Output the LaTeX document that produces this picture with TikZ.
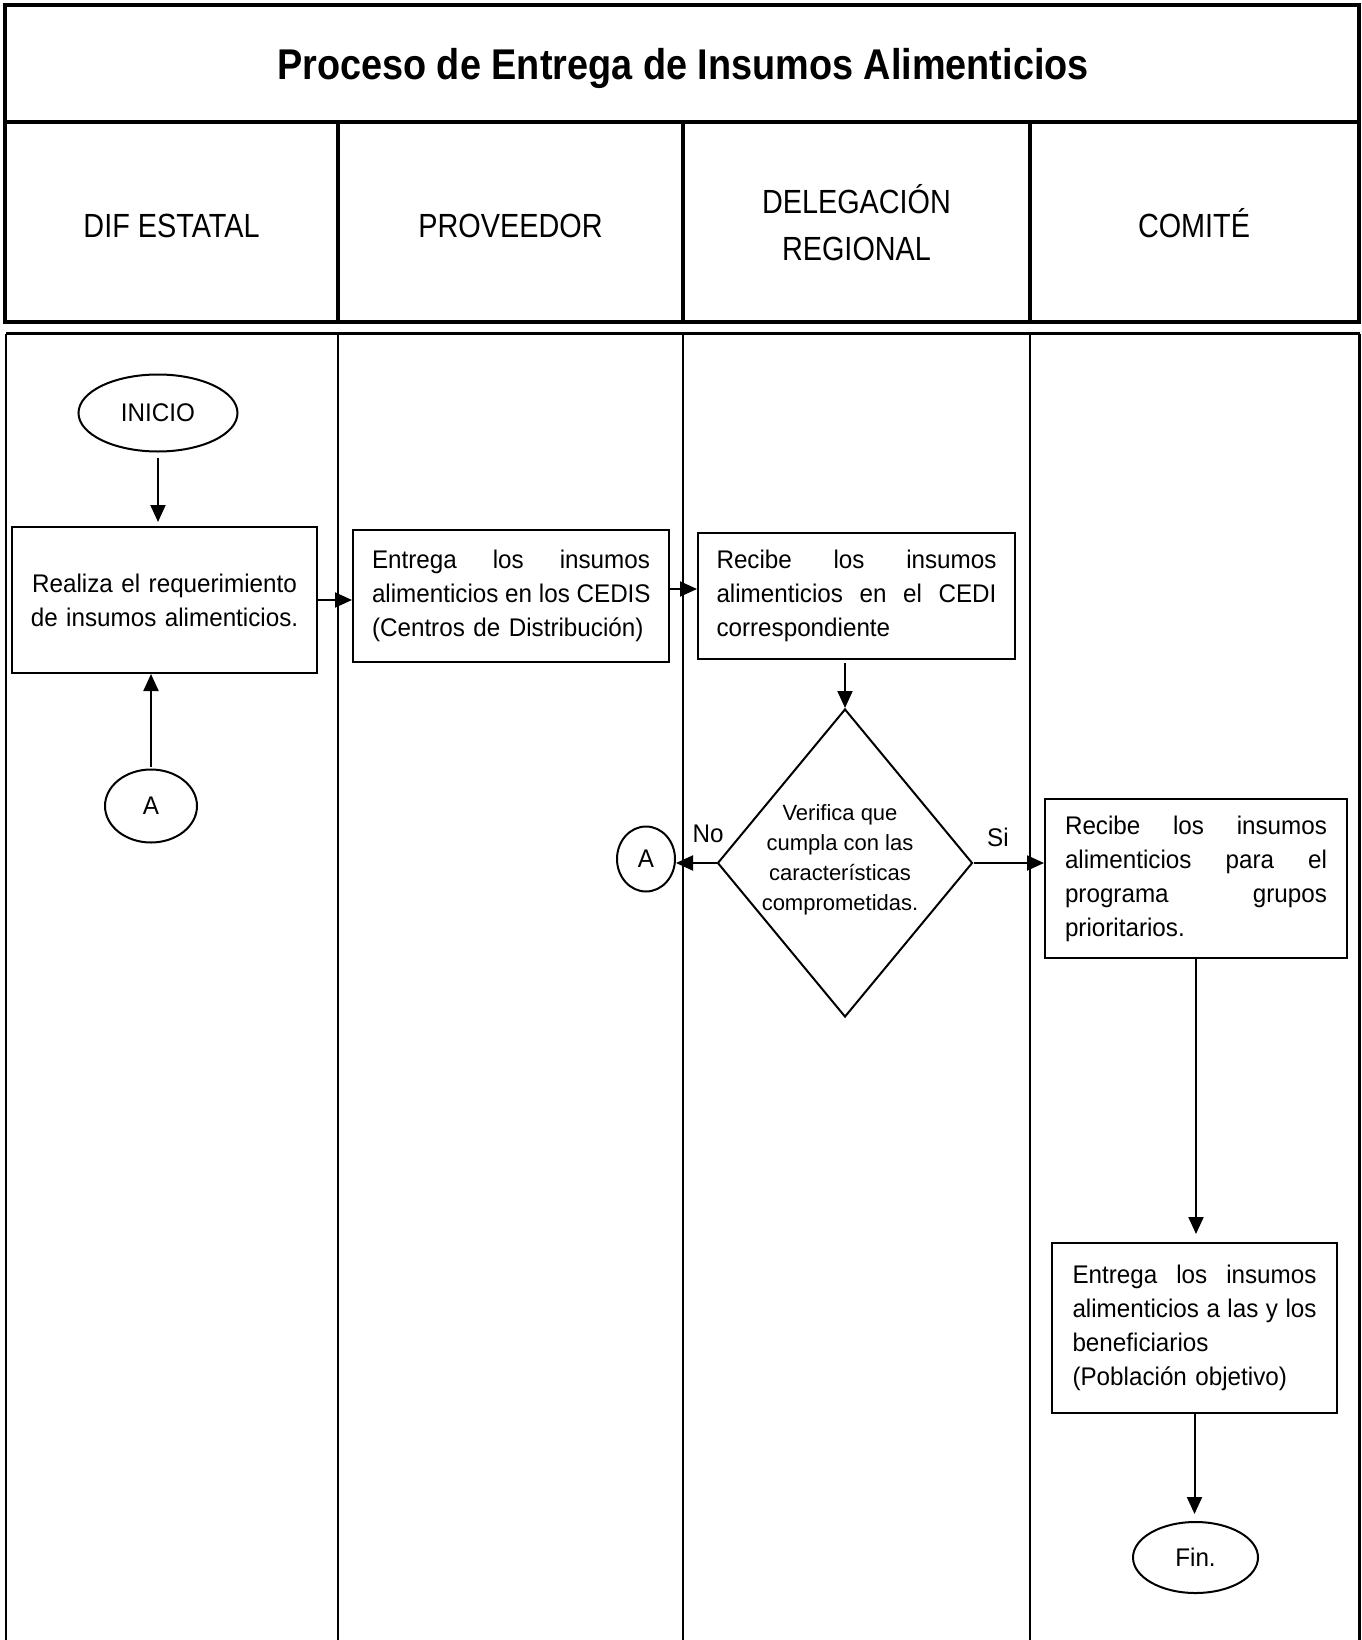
\documentclass[tikz,border=0pt]{standalone}
\usepackage{fontspec}
\setmainfont[FakeStretch=0.95]{Liberation Sans}
\newfontfamily\hdrfont[FakeStretch=0.86]{Liberation Sans}
\newfontfamily\ttlfont[FakeStretch=0.88]{Liberation Sans}
\newfontfamily\dmdfont{Liberation Sans}
\usetikzlibrary{shapes.geometric,arrows.meta}
\newcommand\jst[2]{\leavevmode{\spaceskip=\fontdimen2\font plus 1fil\relax\hbox to #1{#2}}}
\begin{document}
\begin{tikzpicture}[x=1pt,y=-1pt,
  frame/.style={line width=4pt},
  divline/.style={line width=3.5pt},
  lane/.style={line width=2.5pt},
  stepbox/.style={draw,line width=2pt,rectangle,inner sep=0pt,align=left,font=\fontsize{25.5}{34}\selectfont},
  term/.style={draw,line width=2pt,ellipse,inner sep=0pt,font=\fontsize{25.5}{30}\selectfont},
  arr/.style={line width=2pt,-{Triangle[length=17pt,width=15pt]}},
  hdr/.style={font=\hdrfont\fontsize{33.5}{47}\selectfont,align=center,inner sep=0pt},
  lbl/.style={font=\fontsize{25.5}{30}\selectfont,inner sep=0pt},
  dtext/.style={font=\dmdfont\fontsize{22}{30}\selectfont,align=center,inner sep=0pt}
]
\useasboundingbox (0,0) rectangle (1361,1640);
\fill[white] (0,0) rectangle (1361,1640);

% header frame
\draw[frame] (5,5) rectangle (1358.5,322);
\draw[frame] (5,122) -- (1358.5,122);
\draw[divline] (338,122) -- (338,322);
\draw[divline] (683,122) -- (683,322);
\draw[divline] (1030,122) -- (1030,322);

% lanes
\draw[line width=3pt] (6,333.5) -- (1359.5,333.5);
\foreach \xx in {6,338,683,1030,1359.5} \draw[lane] (\xx,333.5) -- (\xx,1640);

% title and headers
\node[anchor=base,inner sep=0pt,font=\ttlfont\bfseries\fontsize{43}{50}\selectfont] (ttl) at (683,80) {Proceso de Entrega de Insumos Alimenticios};
\node[hdr,anchor=base] (h1) at (171.5,237) {DIF ESTATAL};
\node[hdr,anchor=base] (h2) at (510.5,237) {PROVEEDOR};
\node[hdr] (h3) at (856.5,223) {DELEGACIÓN\\REGIONAL};
\node[hdr,anchor=base] (h4) at (1194,237) {COMITÉ};

% flow nodes
\node[term,minimum width=159pt,minimum height=77pt] (inicio) at (158,413) {INICIO};
\node[stepbox,align=center,minimum width=305pt,minimum height=146pt,text width=290pt] (box1) at (164.5,600)
  {Realiza el requerimiento\\de insumos alimenticios.};
\node[term,minimum width=92pt,minimum height=73pt] (a1) at (151,806) {A};

\node[stepbox,minimum width=316pt,minimum height=132pt,text width=278pt] (box2) at (511,596)
  {\jst{278pt}{Entrega los insumos}\\\jst{278pt}{alimenticios en los CEDIS}\\(Centros de Distribución)};

\node[stepbox,minimum width=317pt,minimum height=126pt,text width=280pt] (box3) at (856.5,596)
  {\jst{280pt}{Recibe los insumos}\\\jst{280pt}{alimenticios en el CEDI}\\correspondiente};

\node[draw,line width=2pt,diamond,inner sep=0pt,minimum width=255pt,minimum height=308pt,
  label={[dtext,xshift=-5pt,yshift=3pt]center:{Verifica que\\cumpla con las\\características\\comprometidas.}}] (diamond) at (845,863) {};

\node[term,minimum width=58pt,minimum height=65pt] (a2) at (646,859) {A};
\node[lbl] (no) at (708,834) {No};
\node[lbl] (si) at (998,837) {Si};

\node[stepbox,minimum width=302pt,minimum height=159pt,text width=262pt] (box4) at (1196,878.5)
  {\jst{262pt}{Recibe los insumos}\\\jst{262pt}{alimenticios para el}\\\jst{262pt}{programa grupos}\\prioritarios.};

\node[stepbox,minimum width=285pt,minimum height=170pt,text width=244pt] (box5) at (1194.5,1328)
  {\jst{244pt}{Entrega los insumos}\\\jst{244pt}{alimenticios a las y los}\\beneficiarios\\(Población objetivo)};

\node[term,minimum width=125pt,minimum height=71pt] (fin) at (1195.5,1557.5) {Fin.};

% connectors
\draw[arr,shorten <=5pt,shorten >=4pt] (inicio.south) -- (inicio.south |- box1.north);
\draw[arr] (box1.east) -- (box1.east -| box2.west);
\draw[arr] ([yshift=7pt]box2.east) -- ([yshift=7pt]box2.east -| box3.west);
\draw[arr,shorten <=3pt] (diamond.north |- box3.south) -- (diamond.north);
\draw[arr] (diamond.west) -- (diamond.west -| a2.east);
\draw[arr] (diamond.east) -- (diamond.east -| box4.west);
\draw[arr,shorten >=8pt] (box4.south) -- (box4.south |- box5.north);
\draw[arr,shorten >=7pt] (box5.south) -- (box5.south |- fin.north);
\draw[arr,shorten <=2pt] (a1.north) -- (a1.north |- box1.south);
\end{tikzpicture}
\end{document}
